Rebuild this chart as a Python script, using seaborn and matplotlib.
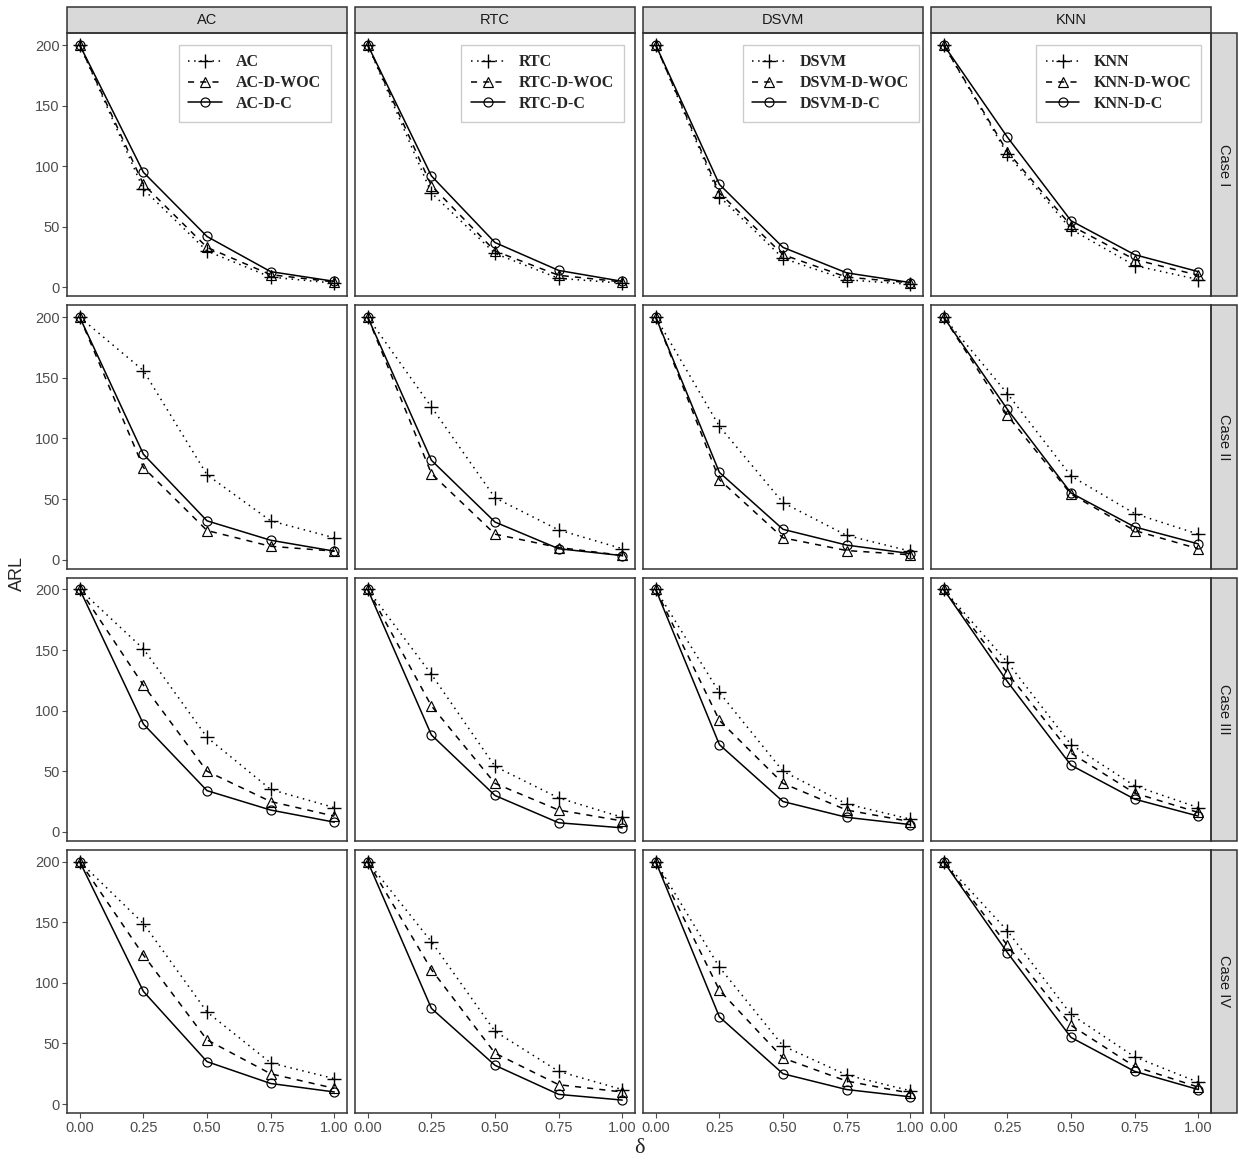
#%% libraries
import matplotlib
matplotlib.use('Agg')
import matplotlib.pyplot as plt
from matplotlib.patches import Rectangle
import pandas as pd
import seaborn as sb


#%% values (rows = Case I..IV, columns = delta)
delta = [0.00, 0.25, 0.50, 0.75, 1.00]
methods = ['AC', 'RTC', 'DSVM', 'KNN']
cases = ['Case I', 'Case II', 'Case III', 'Case IV']

ac_base = [[200, 81, 30, 8.5, 3.5], [200, 156, 70, 32, 18], [200, 151, 78, 35, 20], [200, 149, 76, 34, 21]]
ac_woc = [[200, 85, 33, 10.5, 4.5], [200, 76, 24, 11, 7], [200, 121, 50, 25, 13], [200, 123, 53, 25, 13]]
ac_c = [[200, 95, 42, 13, 5], [200, 87, 32, 16, 7], [200, 89, 34, 18, 8], [200, 93, 35, 17, 10]]

rtc_base = [[200, 78, 28, 7.5, 3.5], [200, 126, 51, 24.5, 9], [200, 130, 54, 28, 12], [200, 134, 60, 27, 12]]
rtc_woc = [[200, 84, 30, 10, 4.5], [200, 71, 21, 10, 3.5], [200, 104, 40, 18, 9], [200, 111, 42, 16, 10]]
rtc_c = [[200, 92, 37, 14, 5], [200, 82, 31, 9, 3.3], [200, 80, 30, 7.5, 3.3], [200, 79, 32, 8, 3.3]]

dsvm_base = [[200, 75, 24, 6.3, 2.5], [200, 110, 47, 20, 7], [200, 115, 50, 23, 10.5], [200, 113, 48, 24, 11]]
dsvm_woc = [[200, 78, 27, 8.5, 3.8], [200, 66, 18, 7.5, 4], [200, 92, 40, 18, 8.5], [200, 94, 38, 19, 9]]
dsvm_c = [[200, 85, 33, 12, 4], [200, 72, 25, 12, 5], [200, 72, 25, 12, 6], [200, 72, 25, 12, 6]]

knn_base = [[200, 110, 48, 18, 6.5], [200, 137, 69, 38, 21], [200, 140, 72, 38, 20], [200, 143, 74, 39, 18]]
knn_woc = [[200, 112, 51, 23, 10], [200, 119, 54, 24, 9], [200, 131, 65, 32, 16], [200, 131, 65, 31, 14]]
knn_c = [[200, 124, 55, 27, 13], [200, 124, 55, 27, 13], [200, 124, 55, 27, 13], [200, 125, 55, 27, 12]]

series = {'AC': [ac_base, ac_woc, ac_c],
          'RTC': [rtc_base, rtc_woc, rtc_c],
          'DSVM': [dsvm_base, dsvm_woc, dsvm_c],
          'KNN': [knn_base, knn_woc, knn_c]}
kinds = ['base', 'woc', 'c']
suffix = {'base': '', 'woc': '-D-WOC', 'c': '-D-C'}

#%% long data frame
rows = {'method': [], 'case': [], 'kind': [], 'delta': [], 'ARL': []}
for m in methods:
    for k, kind in enumerate(kinds):
        for c, case in enumerate(cases):
            vals = series[m][k][c]
            rows['method'].extend([m] * len(vals))
            rows['case'].extend([case] * len(vals))
            rows['kind'].extend([kind] * len(vals))
            rows['delta'].extend(delta)
            rows['ARL'].extend(vals)
df = pd.DataFrame.from_dict(rows)

#%% plot
sb.set_theme(style='ticks')
plt.rcParams['font.family'] = ['Liberation Sans', 'DejaVu Sans']

dash_map = {'base': (1, 3), 'woc': (4, 4), 'c': ''}
marker_map = {'base': '+', 'woc': '^', 'c': 'o'}   # set after drawing (seaborn won't mix + with filled)
msize = {'base': 9.5, 'woc': 7, 'c': 6.5}
strip_col = '#D9D9D9'
edge_col = '#333333'
tick_col = '#4D4D4D'

fig, axes = plt.subplots(4, 4, figsize=(12.39, 11.64), dpi=100, sharex=True, sharey=True)
plt.subplots_adjust(left=0.0541, right=0.9774, top=0.9716, bottom=0.0438, wspace=0.0286, hspace=0.034)

for i, case in enumerate(cases):
    for j, m in enumerate(methods):
        ax = axes[i, j]
        sub = df[(df['case'] == case) & (df['method'] == m)]
        sb.lineplot(data=sub, x='delta', y='ARL', style='kind', style_order=kinds,
                    dashes=dash_map, markers=False, color='black', lw=1.1,
                    legend=False, ax=ax)
        lines = ax.get_lines()
        for line, kind in zip(lines, kinds):
            line.set_marker(marker_map[kind])
            line.set_markersize(msize[kind])
            line.set_markeredgecolor('black')
            line.set_markerfacecolor('none')
            line.set_markeredgewidth(1.0 if kind == 'base' else 0.85)

        ax.set_xlabel('')
        ax.set_ylabel('')
        ax.set_xticks(delta)
        ax.set_xticklabels(['{:.2f}'.format(d) for d in delta])
        ax.set_yticks([0, 50, 100, 150, 200])
        ax.tick_params(axis='both', labelsize=10.5, labelcolor=tick_col, color=tick_col,
                       length=3.5, width=0.8, pad=2)
        ax.tick_params(axis='y', left=(j == 0))
        ax.tick_params(axis='x', bottom=(i == 3))
        for sp in ax.spines.values():
            sp.set_visible(True)
            sp.set_color(edge_col)
            sp.set_linewidth(1.1)

        # facet strips
        if i == 0:
            h = 26 / 263
            ax.add_patch(Rectangle((0, 1), 1, h, transform=ax.transAxes, fc=strip_col,
                                   ec=edge_col, lw=1.1, clip_on=False))
            ax.text(0.5, 1 + h / 2, m, transform=ax.transAxes, ha='center', va='center',
                    fontsize=10.5, color='#1A1A1A')
            labels = [m + suffix[k] for k in kinds]
            ax.legend(list(lines[:3]), labels, loc='upper center', bbox_to_anchor=(0.67, 0.955),
                      prop={'family': 'Liberation Serif', 'weight': 'bold', 'size': 11.5},
                      frameon=True, fancybox=False, edgecolor='#CCCCCC', framealpha=1,
                      handlelength=2.1, borderpad=0.6, labelspacing=0.3,
                      handletextpad=0.9, borderaxespad=0)
        if j == 3:
            w = 26 / 280
            ax.add_patch(Rectangle((1, 0), w, 1, transform=ax.transAxes, fc=strip_col,
                                   ec=edge_col, lw=1.1, clip_on=False))
            ax.text(1 + w / 2, 0.5, case, transform=ax.transAxes, ha='center', va='center',
                    rotation=-90, fontsize=10.5, color='#1A1A1A')

fig.text(0.0145, 0.5077, 'ARL', rotation=90, ha='center', va='center', fontsize=13)
fig.text(0.516, 0.013, 'δ', ha='center', va='center', fontsize=16, family='Liberation Serif')

plt.savefig('out.png', format='png', dpi=100)
